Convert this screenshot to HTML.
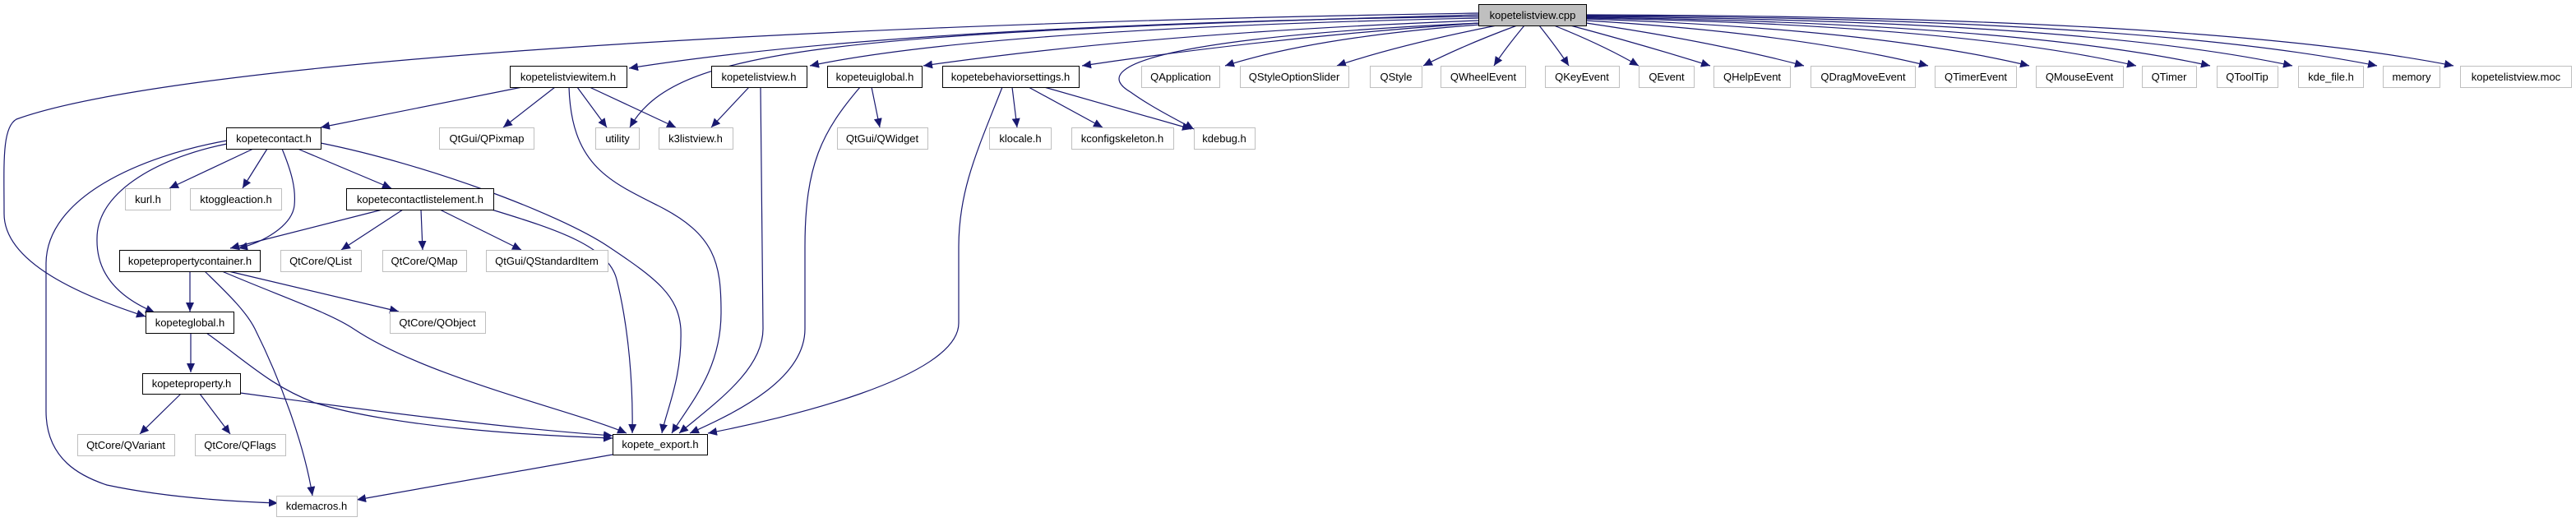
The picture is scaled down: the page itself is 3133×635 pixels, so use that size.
<!DOCTYPE html>
<html><head><meta charset="utf-8"><style>
html,body{margin:0;padding:0;background:#fff;}
svg{display:block;}
text{font-family:"Liberation Sans",sans-serif;font-size:13px;fill:#000;}
</style></head><body>
<svg width="3133" height="635" viewBox="0 0 3133 635" xmlns="http://www.w3.org/2000/svg">
<defs>
<marker id="a" markerUnits="userSpaceOnUse" markerWidth="12" markerHeight="10" refX="11" refY="5" orient="auto">
<path d="M0,0 L11,5 L0,10 Z" fill="#191970"/>
</marker>
</defs>
<g fill="none" stroke="#191970" stroke-width="1.2" marker-end="url(#a)">
<!-- root right side -->
<path d="M1800,30 Q1600,45 1490,80"/>
<path d="M1820,31 Q1700,55 1626,80"/>
<path d="M1845,31 Q1780,55 1731,80"/>
<path d="M1854,31 Q1830,60 1817,80"/>
<path d="M1872,31 Q1895,60 1908,80"/>
<path d="M1890,31 Q1950,55 1993,80"/>
<path d="M1910,31 Q2000,55 2080,80"/>
<path d="M1929,28 Q2080,50 2194,80"/>
<path d="M1929,25 Q2180,40 2345,80"/>
<path d="M1929,23 Q2280,35 2468,80"/>
<path d="M1929,22 Q2380,30 2598,80"/>
<path d="M1929,21 Q2450,28 2688,80"/>
<path d="M1929,20 Q2530,25 2788,80"/>
<path d="M1929,19 Q2600,22 2891,80"/>
<path d="M1929,18 Q2680,20 2984,80"/>
<!-- root left side -->
<path d="M1800,28 Q1550,45 1316,80"/>
<path d="M1798,25 Q1400,40 1123,80"/>
<path d="M1798,22 Q1200,35 985,80"/>
<path d="M1798,20 Q1100,30 765,83"/>
<path d="M1798,18 C1000,40 820,60 766,155"/>
<path d="M1798,16 C900,30 200,80 20,145 C2,155 5,200 5,260 C5,320 100,360 177,385"/>
<path d="M1800,28 C1420,45 1320,80 1375,112 C1400,130 1430,145 1452,157"/>
<!-- kopetelistviewitem -->
<path d="M635,106 L390,155"/>
<path d="M675,106 L612,155"/>
<path d="M702,106 L738,155"/>
<path d="M717,106 L822,155"/>
<path d="M692,106 C695,200 740,220 800,250 C870,285 877,320 877,380 C877,450 840,490 817,527"/>
<!-- kopetelistview.h -->
<path d="M911,106 L865,155"/>
<path d="M925,106 L928,400 C928,450 870,490 826,527"/>
<!-- kopeteuiglobal -->
<path d="M1060,106 L1070,155"/>
<path d="M1046,106 C1000,160 979,200 979,300 L979,400 C979,460 900,500 839,527"/>
<!-- behaviorsettings -->
<path d="M1231,106 L1237,155"/>
<path d="M1251,106 L1341,155"/>
<path d="M1270,106 L1449,157"/>
<path d="M1219,106 C1190,180 1166,230 1166,300 L1166,393 C1166,460 950,510 861,527"/>
<!-- kopetecontact -->
<path d="M308,181 L206,229"/>
<path d="M325,181 L295,229"/>
<path d="M362,181 L476,229"/>
<path d="M343,181 C355,210 360,230 358,250 C355,275 320,295 290,302"/>
<path d="M276,175 C200,190 118,230 118,290 C117,330 140,360 188,380"/>
<path d="M276,171 C170,190 57,240 56,320 L56,500 C56,560 100,580 130,590 C200,605 280,610 338,612"/>
<path d="M390,174 C520,200 680,260 740,300 C800,340 825,360 828,400 C830,460 810,500 805,527"/>
<!-- kopetecontactlistelement -->
<path d="M465,255 L280,302"/>
<path d="M490,255 L415,304"/>
<path d="M512,255 L514,304"/>
<path d="M535,255 L634,304"/>
<path d="M598,255 C680,280 740,300 750,340 C765,400 770,470 769,527"/>
<!-- kopetepropertycontainer -->
<path d="M231,330 L231,379"/>
<path d="M278,330 L485,379"/>
<path d="M249,330 C280,360 300,380 310,400 C340,460 370,540 380,603"/>
<path d="M270,330 C340,360 400,380 430,400 C520,460 700,500 762,527"/>
<!-- kopeteglobal -->
<path d="M232,405 L232,453"/>
<path d="M251,405 C300,440 330,470 383,490 C480,520 650,530 745,533"/>
<!-- kopeteproperty -->
<path d="M220,479 L170,528"/>
<path d="M243,479 L280,528"/>
<path d="M292,478 C420,495 600,520 745,530"/>
<!-- kopete_export -->
<path d="M745,553 L434,608"/>
</g>
<g stroke-width="1">
<!-- bold nodes -->
<rect x="1798.5" y="5.5" width="131" height="26" fill="#bfbfbf" stroke="#000"/>
<g fill="#fff" stroke="#000">
<rect x="620.5" y="80.5" width="142" height="26"/>
<rect x="865.5" y="80.5" width="116" height="26"/>
<rect x="1006.5" y="80.5" width="115" height="26"/>
<rect x="1146.5" y="80.5" width="166" height="26"/>
<rect x="275.5" y="155.5" width="115" height="26"/>
<rect x="421.5" y="229.5" width="179" height="26"/>
<rect x="145.5" y="304.5" width="171" height="26"/>
<rect x="177.5" y="379.5" width="107" height="26"/>
<rect x="173.5" y="454.5" width="119" height="25"/>
<rect x="745.5" y="528.5" width="115" height="25"/>
</g>
<g fill="#fff" stroke="#bfbfbf">
<rect x="1388.5" y="80.5" width="95" height="26"/>
<rect x="1508.5" y="80.5" width="132" height="26"/>
<rect x="1666.5" y="80.5" width="63" height="26"/>
<rect x="1752.5" y="80.5" width="103" height="26"/>
<rect x="1879.5" y="80.5" width="90" height="26"/>
<rect x="1993.5" y="80.5" width="67" height="26"/>
<rect x="2084.5" y="80.5" width="93" height="26"/>
<rect x="2202.5" y="80.5" width="127" height="26"/>
<rect x="2353.5" y="80.5" width="99" height="26"/>
<rect x="2476.5" y="80.5" width="106" height="26"/>
<rect x="2605.5" y="80.5" width="66" height="26"/>
<rect x="2696.5" y="80.5" width="74" height="26"/>
<rect x="2795.5" y="80.5" width="79" height="26"/>
<rect x="2898.5" y="80.5" width="69" height="26"/>
<rect x="2992.5" y="80.5" width="135" height="26"/>
<rect x="534.5" y="155.5" width="115" height="26"/>
<rect x="724.5" y="155.5" width="53" height="26"/>
<rect x="801.5" y="155.5" width="90" height="26"/>
<rect x="1018.5" y="155.5" width="110" height="26"/>
<rect x="1203.5" y="155.5" width="75" height="26"/>
<rect x="1303.5" y="155.5" width="124" height="26"/>
<rect x="1452.5" y="155.5" width="74" height="26"/>
<rect x="152.5" y="229.5" width="55" height="26"/>
<rect x="231.5" y="229.5" width="111" height="26"/>
<rect x="341.5" y="304.5" width="98" height="26"/>
<rect x="465.5" y="304.5" width="102" height="26"/>
<rect x="591.5" y="304.5" width="148" height="26"/>
<rect x="474.5" y="379.5" width="116" height="26"/>
<rect x="94.5" y="528.5" width="118" height="26"/>
<rect x="237.5" y="528.5" width="110" height="26"/>
<rect x="336.5" y="603.5" width="98" height="25"/>
</g>
</g>
<g text-anchor="middle">
<text x="1864" y="23">kopetelistview.cpp</text>
<text x="691" y="98">kopetelistviewitem.h</text>
<text x="923" y="98">kopetelistview.h</text>
<text x="1064" y="98">kopeteuiglobal.h</text>
<text x="1229" y="98">kopetebehaviorsettings.h</text>
<text x="1436" y="98">QApplication</text>
<text x="1574" y="98">QStyleOptionSlider</text>
<text x="1698" y="98">QStyle</text>
<text x="1804" y="98">QWheelEvent</text>
<text x="1924" y="98">QKeyEvent</text>
<text x="2027" y="98">QEvent</text>
<text x="2131" y="98">QHelpEvent</text>
<text x="2266" y="98">QDragMoveEvent</text>
<text x="2403" y="98">QTimerEvent</text>
<text x="2529" y="98">QMouseEvent</text>
<text x="2638" y="98">QTimer</text>
<text x="2733" y="98">QToolTip</text>
<text x="2835" y="98">kde_file.h</text>
<text x="2933" y="98">memory</text>
<text x="3060" y="98">kopetelistview.moc</text>
<text x="333" y="173">kopetecontact.h</text>
<text x="592" y="173">QtGui/QPixmap</text>
<text x="751" y="173">utility</text>
<text x="846" y="173">k3listview.h</text>
<text x="1073" y="173">QtGui/QWidget</text>
<text x="1241" y="173">klocale.h</text>
<text x="1365" y="173">kconfigskeleton.h</text>
<text x="1489" y="173">kdebug.h</text>
<text x="180" y="247">kurl.h</text>
<text x="287" y="247">ktoggleaction.h</text>
<text x="511" y="247">kopetecontactlistelement.h</text>
<text x="231" y="322">kopetepropertycontainer.h</text>
<text x="390" y="322">QtCore/QList</text>
<text x="516" y="322">QtCore/QMap</text>
<text x="665" y="322">QtGui/QStandardItem</text>
<text x="231" y="397">kopeteglobal.h</text>
<text x="532" y="397">QtCore/QObject</text>
<text x="233" y="471">kopeteproperty.h</text>
<text x="153" y="546">QtCore/QVariant</text>
<text x="292" y="546">QtCore/QFlags</text>
<text x="803" y="545">kopete_export.h</text>
<text x="385" y="620">kdemacros.h</text>
</g>
</svg>
</body></html>
